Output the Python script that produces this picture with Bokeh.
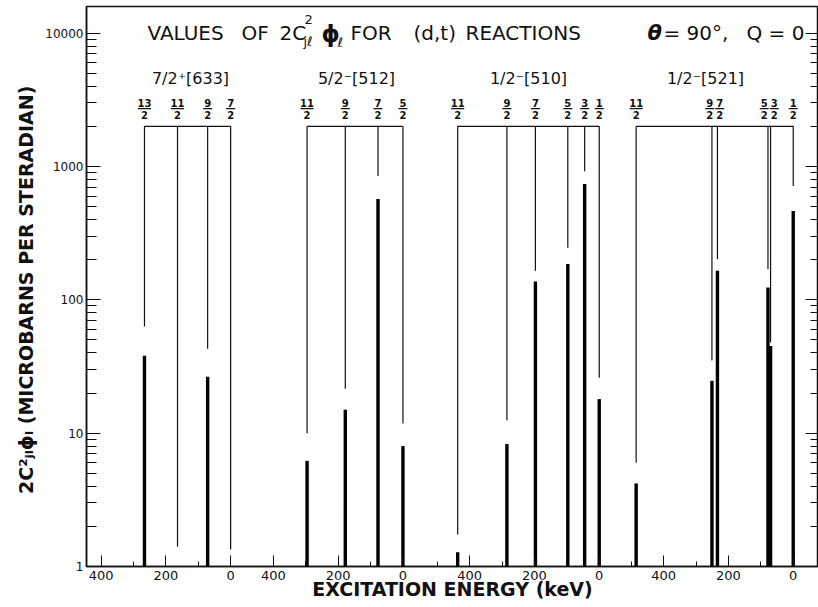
import math
from bokeh.plotting import figure
from bokeh.models import (Range1d, LogAxis, FixedTicker, CustomJSTickFormatter,
                          PrintfTickFormatter, Label)
from bokeh.embed import file_html
from bokeh.resources import INLINE
from bokeh.core.properties import value

# ---------------- data ----------------
panel_titles = ["7/2\u207a[633]", "5/2\u207b[512]", "1/2\u207b[510]", "1/2\u207b[521]"]

p1_spins = ["13/2", "11/2", "9/2", "7/2"]
p1_energy = [266, 164, 71, 0]            # keV
p1_strength = [38, None, 26.5, None]     # microbarns / sr
p1_line_end = [63, 1.41, 43, 1.34]

p2_spins = ["11/2", "9/2", "7/2", "5/2"]
p2_energy = [296, 178, 77, 0]
p2_strength = [6.2, 15, 570, 8.0]
p2_line_end = [10, 21.5, 850, 11.8]

p3_spins = ["11/2", "9/2", "7/2", "5/2", "3/2", "1/2"]
p3_energy = [437, 285, 197, 97, 45, 0]
p3_strength = [1.28, 8.3, 137, 186, 740, 18]
p3_line_end = [1.74, 12.5, 165, 246, 920, 26]

p4_spins = ["11/2", "9/2", "7/2", "5/2", "3/2", "1/2"]
p4_energy = [485, 251, 234, 78, 70, 0]
p4_strength = [4.2, 24.7, 165, 124, 45, 464]
p4_line_end = [6.0, 35, 202, 170, 48, 715]

bracket_level = 2000
x_major_labels = [400, 200, 0]
x_minor_values = [500, 300, 100]
y_tick_values = [1, 10, 100, 1000, 10000]

panels = [
    (p1_spins, p1_energy, p1_strength, p1_line_end),
    (p2_spins, p2_energy, p2_strength, p2_line_end),
    (p3_spins, p3_energy, p3_strength, p3_line_end),
    (p4_spins, p4_energy, p4_strength, p4_line_end),
]

# ---------------- layout ----------------
PANEL_ZERO = [0, 532, 1138, 1737]   # where each panel's 0 keV sits on the shared axis
FL, FB = 86, 566                    # frame left / bottom in canvas pixels
FONT = "DejaVu Sans"
INK = "#111111"
MIN_LABEL_SEP = 31                  # keV, keeps neighbouring spin labels apart

p = figure(width=818, height=607, title=None,
           x_range=Range1d(-445, 1815), y_range=Range1d(1, 10 ** 4.2),
           y_axis_type="log", output_backend="svg", toolbar_location=None,
           min_border_left=FL, min_border_right=0, min_border_top=6,
           min_border_bottom=41)
p.background_fill_color = "white"
p.border_fill_color = "white"
p.outline_line_color = INK
p.outline_line_width = 1.5
p.xgrid.visible = False
p.ygrid.visible = False

# x axis (four reversed energy scales)
major_x, minor_x = [], []
for k, z in enumerate(PANEL_ZERO):
    major_x += [z - e for e in x_major_labels]
    minor_x += [z - e for e in x_minor_values if not (k < 2 and e == 500)]
xa = p.xaxis[0]
xa.ticker = FixedTicker(ticks=major_x, minor_ticks=minor_x)
xa.formatter = CustomJSTickFormatter(args=dict(offs=PANEL_ZERO), code="""
for (const o of offs) {
  const e = o - tick;
  if (e > -1 && e < 450) { return String(Math.round(e)); }
}
return "";
""")
xa.major_tick_in = 11
xa.major_tick_out = 0
xa.minor_tick_in = 5
xa.minor_tick_out = 0
xa.major_label_standoff = 4
xa.major_label_text_font = FONT
xa.major_label_text_font_size = "13px"
xa.major_label_text_color = INK
xa.axis_line_width = 1.5
xa.axis_line_color = INK
xa.major_tick_line_color = INK
xa.minor_tick_line_color = INK
xa.axis_label = "EXCITATION ENERGY (keV)"
xa.axis_label_text_font = FONT
xa.axis_label_text_font_size = "19px"
xa.axis_label_text_font_style = "bold"
xa.axis_label_text_color = INK
xa.axis_label_standoff = -5

# y axes
y_minor = [m * 10 ** d for d in range(0, 5) for m in range(2, 10)]
ya = p.yaxis[0]
ya.ticker = FixedTicker(ticks=y_tick_values, minor_ticks=y_minor)
ya.formatter = PrintfTickFormatter(format="%d")
ya.major_tick_in = 14
ya.major_tick_out = 0
ya.minor_tick_in = 10
ya.minor_tick_out = 0
ya.major_label_standoff = 3
ya.major_label_text_font = FONT
ya.major_label_text_font_size = "12px"
ya.major_label_text_color = INK
ya.axis_line_width = 1.5
ya.axis_line_color = INK
ya.major_tick_line_color = INK
ya.minor_tick_line_color = INK
ya.axis_label = "2C\u00b2\u2c7c\u2097\u03d5\u2097  (MICROBARNS PER STERADIAN)"
ya.axis_label_text_font = FONT
ya.axis_label_text_font_size = "19px"
ya.axis_label_text_font_style = "bold"
ya.axis_label_text_color = INK
ya.axis_label_standoff = 5

ra = LogAxis(ticker=FixedTicker(ticks=y_tick_values, minor_ticks=y_minor),
             formatter=CustomJSTickFormatter(code="return '';"),
             major_label_text_font_size="1px", major_label_standoff=0,
             major_tick_in=13, major_tick_out=0, minor_tick_in=8, minor_tick_out=0,
             axis_line_color=None, major_tick_line_color=INK,
             minor_tick_line_color=INK)
p.add_layout(ra, "right")


def spread(xs, sep):
    """Push neighbouring label centres apart to at least `sep`."""
    order = sorted(range(len(xs)), key=lambda i: xs[i])
    out = list(xs)
    for a, b in zip(order[:-1], order[1:]):
        gap = out[b] - out[a]
        if gap < sep:
            mid = (out[a] + out[b]) / 2
            out[a], out[b] = mid - sep / 2, mid + sep / 2
    return out


# ---------------- marks ----------------
for z, (spins, energy, strength, line_end) in zip(PANEL_ZERO, panels):
    xs = [z - e for e in energy]
    # bracket joining the levels
    p.segment(x0=[min(xs)], y0=[bracket_level], x1=[max(xs)], y1=[bracket_level],
              line_color=INK, line_width=1.2)
    # thin level lines
    p.segment(x0=xs, y0=[bracket_level] * len(xs), x1=xs, y1=line_end,
              line_color=INK, line_width=1.2)
    # thick strength bars
    bx = [x for x, s in zip(xs, strength) if s is not None]
    bs = [s for s in strength if s is not None]
    p.segment(x0=bx, y0=[1] * len(bx), x1=bx, y1=bs,
              line_color="black", line_width=3.4, line_cap="butt")
    # spin fractions
    lx = spread(xs, MIN_LABEL_SEP)
    num = [s.split("/")[0] for s in spins]
    den = [s.split("/")[1] for s in spins]
    fy = [bracket_level * 1.36] * len(xs)
    p.text(x=lx, y=fy, text=num, text_align="center", text_baseline="middle",
           y_offset=-6, text_font=value(FONT), text_font_size="10px",
           text_font_style="bold", text_color=INK)
    p.text(x=lx, y=fy, text=den, text_align="center", text_baseline="middle",
           y_offset=6, text_font=value(FONT), text_font_size="10px",
           text_font_style="bold", text_color=INK)
    p.scatter(x=lx, y=fy, marker="dash", size=[5 + 4 * len(n) for n in num],
              line_color=INK, line_width=1.2)


# ---------------- texts inside the frame ----------------
def lab(cx, cy, text, size, style="normal", align="left"):
    p.add_layout(Label(x=cx - FL, y=FB - cy, x_units="screen", y_units="screen",
                       text=text, text_font=FONT, text_font_size=f"{size}px",
                       text_font_style=style, text_align=align,
                       text_baseline="middle", text_color=INK))


# main title
lab(147, 32, "VALUES", 20)
lab(241, 32, "OF", 20)
lab(279, 32, "2C", 20)
lab(304, 19, "2", 13)
lab(303, 41, "j\u2113", 13)
lab(321, 33, "\u03d5", 23, style="bold")
lab(337, 42, "\u2113", 13)
lab(350, 32, "FOR", 20)
lab(413, 32, "(d,t)", 20)
lab(465, 32, "REACTIONS", 20)
lab(647, 32, "\u03b8", 21, style="bold italic")
lab(663, 32, "= 90\u00b0,", 20)
lab(746, 32, "Q = 0", 20)

# panel titles
for cx, t in zip([190, 356, 528, 705], panel_titles):
    lab(cx, 78, t, 16, align="center")

open("out.html", "w").write(file_html(p, INLINE))
